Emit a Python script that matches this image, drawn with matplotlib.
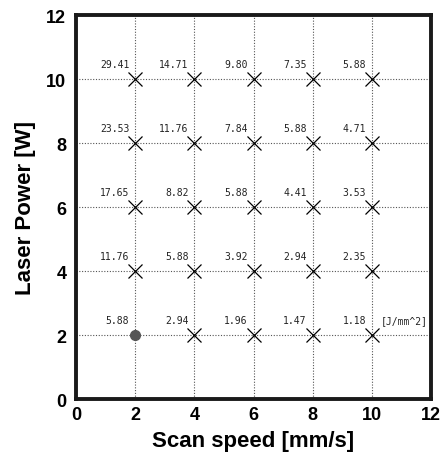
import matplotlib.pyplot as plt
import numpy as np

# Scan speed [mm/s] and laser power [W] grid
speeds = [2, 4, 6, 8, 10]
powers = [2, 4, 6, 8, 10]

# energy density labels, rows = power (2..10), cols = speed (2..10)
energy = [
    ["5.88", "2.94", "1.96", "1.47", "1.18"],
    ["11.76", "5.88", "3.92", "2.94", "2.35"],
    ["17.65", "8.82", "5.88", "4.41", "3.53"],
    ["23.53", "11.76", "7.84", "5.88", "4.71"],
    ["29.41", "14.71", "9.80", "7.35", "5.88"],
]
unit_label = "[J/mm^2]"

# the one condition drawn as a filled circle
done_speed = [2]
done_power = [2]

fig = plt.figure(figsize=(4.43, 4.60), dpi=100)
ax = fig.add_axes([0.1716, 0.1304, 0.8014, 0.8348])

mono = ["DejaVu Sans Mono"]

for i, p in enumerate(powers):
    for j, s in enumerate(speeds):
        if s in done_speed and p in done_power:
            continue
        ax.plot(s, p, marker="x", color="black", markersize=10,
                markeredgewidth=0.9, linestyle="none", zorder=3)
for i, p in enumerate(powers):
    for j, s in enumerate(speeds):
        ax.text(s - 0.2, p + 0.48, energy[i][j], ha="right", va="center",
                fontsize=7, family=mono, color="#222222")
ax.text(speeds[-1] + 0.3, powers[0] + 0.48, unit_label, ha="left",
        va="center", fontsize=7, family=mono, color="#222222")

ax.plot(done_speed, done_power, "o", color="#555555", markersize=7, zorder=3)

ax.set_xlim(0, 12)
ax.set_ylim(0, 12)
ax.set_xticks(range(0, 13, 2))
ax.set_yticks(range(0, 13, 2))
ax.tick_params(length=0, labelsize=13)
ax.tick_params(axis="x", pad=5)
ax.tick_params(axis="y", pad=7)
for lab in ax.get_xticklabels() + ax.get_yticklabels():
    lab.set_fontweight("bold")
    lab.set_family("Liberation Sans")
ax.grid(True, linestyle=(0, (1, 1.5)), color="#555555", linewidth=0.8)
for sp in ax.spines.values():
    sp.set_linewidth(2.8)
    sp.set_color("#1a1a1a")

ax.set_xlabel("Scan speed [mm/s]", fontsize=16, fontweight="bold",
              family="Liberation Sans", labelpad=5)
ax.set_ylabel("Laser Power [W]", fontsize=16, fontweight="bold",
              family="Liberation Sans", labelpad=7)

fig.savefig("out.png", dpi=100)
